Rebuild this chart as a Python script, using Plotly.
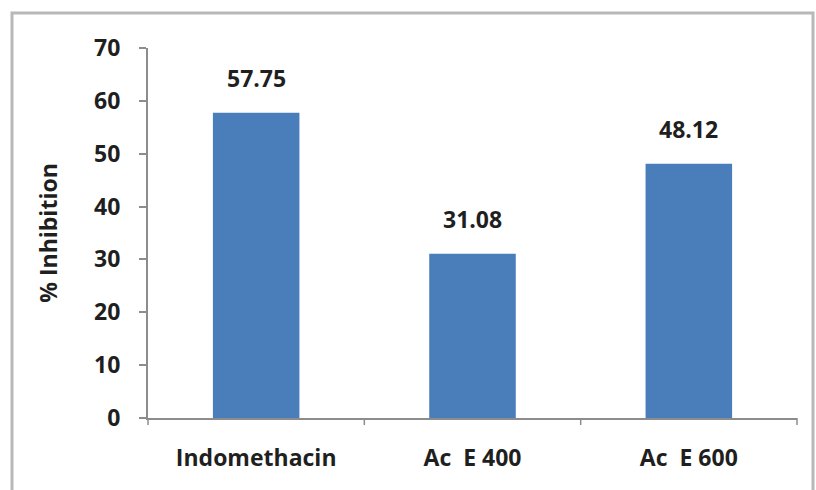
import plotly.graph_objects as go

# Anti-inflammatory activity: percentage inhibition per treatment
categories = ["Indomethacin", "Ac  E 400", "Ac  E 600"]
inhibition = [57.75, 31.08, 48.12]
value_labels = ["57.75", "31.08", "48.12"]
y_ticks = [0, 10, 20, 30, 40, 50, 60, 70]

FONT = "Open Sans, Liberation Sans, sans-serif"
TEXT = "#1f1f1f"
BAR_BLUE = "#4a7ebb"
AXIS_GRAY = "#8c8c8c"

W, H = 816, 490
L, R, T, B = 148, 19, 48, 72
pw, ph = W - L - R, H - T - B

fig = go.Figure(
    go.Bar(
        x=categories,
        y=inhibition,
        width=0.4,
        marker=dict(color=BAR_BLUE, line=dict(width=0)),
        hoverinfo="x+y",
    )
)

# value labels floating above each bar
for cat, val, lab in zip(categories, inhibition, value_labels):
    fig.add_annotation(
        x=cat, y=val, text=f"<b>{lab}</b>",
        showarrow=False, yanchor="bottom", yshift=17,
        font=dict(family=FONT, size=23, color=TEXT),
    )

fig.update_layout(
    width=W,
    height=H,
    margin=dict(l=L, r=R, t=T, b=B),
    paper_bgcolor="white",
    plot_bgcolor="white",
    showlegend=False,
    font=dict(family=FONT, color=TEXT),
    xaxis=dict(
        tickvals=categories,
        ticktext=[f"<b>{c}</b>" for c in categories],
        showline=True,
        linecolor=AXIS_GRAY,
        linewidth=2,
        ticks="",
        showgrid=False,
        tickfont=dict(family=FONT, size=23, color=TEXT),
        ticklabelstandoff=18,
    ),
    yaxis=dict(
        range=[0, 70],
        tickvals=y_ticks,
        ticktext=[f"<b>{v}</b>" for v in y_ticks],
        showline=True,
        linecolor=AXIS_GRAY,
        linewidth=2,
        ticks="outside",
        ticklen=7,
        tickwidth=1.5,
        tickcolor=AXIS_GRAY,
        showgrid=False,
        zeroline=False,
        tickfont=dict(family=FONT, size=23, color=TEXT),
        ticklabelstandoff=14,
        title=dict(
            text="<b>% Inhibition</b>",
            font=dict(family=FONT, size=23, color=TEXT),
            standoff=30,
        ),
    ),
)

# category separator ticks below the x axis
n = len(categories)
for i in range(n + 1):
    fig.add_shape(
        type="line",
        xref="x domain", yref="paper",
        x0=i / n, x1=i / n,
        y0=0, y1=-7 / ph,
        line=dict(color=AXIS_GRAY, width=1.5),
    )

# outer chart frame (left and top edges fall inside the view)
fig.add_shape(
    type="rect",
    xref="paper", yref="paper",
    x0=(12 - L) / pw, x1=(813 - L) / pw,
    y0=-(B + 20) / ph,
    y1=(ph + T - 13) / ph,
    line=dict(color="#b8b8b8", width=3),
    fillcolor="rgba(0,0,0,0)",
    layer="below",
)

fig.write_html("out.html")
